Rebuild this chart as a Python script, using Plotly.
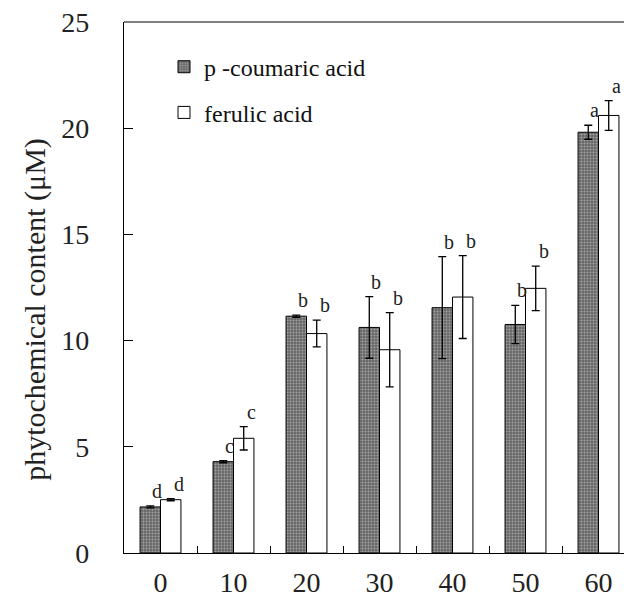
import plotly.graph_objects as go

categories = ["0", "10", "20", "30", "40", "50", "60"]
coumaric = [2.17, 4.30, 11.15, 10.62, 11.55, 10.76, 19.81]
coumaric_err = [0.05, 0.05, 0.05, 1.45, 2.40, 0.90, 0.33]
ferulic = [2.51, 5.40, 10.33, 9.57, 12.05, 12.46, 20.60]
ferulic_err = [0.05, 0.55, 0.63, 1.75, 1.95, 1.05, 0.70]
letters_coumaric = ["d", "c", "b", "b", "b", "b", "a"]
letters_ferulic = ["d", "c", "b", "b", "b", "b", "a"]
y_ticks = [0, 5, 10, 15, 20, 25]
y_title = "phytochemical content (μM)"

FONT = "Liberation Serif, Times New Roman, serif"

fig = go.Figure()
fig.add_trace(go.Bar(
    x=categories, y=coumaric, name="p -coumaric acid",
    marker=dict(color="#707070", line=dict(color="black", width=1),
                pattern=dict(shape=".", fgcolor="#e0e0e0", bgcolor="#666666", size=3, solidity=0.35)),
    error_y=dict(type="data", array=coumaric_err, color="black", thickness=1.3, width=4),
    legend="legend",
))
fig.add_trace(go.Bar(
    x=categories, y=ferulic, name="ferulic acid",
    marker=dict(color="white", line=dict(color="black", width=1)),
    error_y=dict(type="data", array=ferulic_err, color="black", thickness=1.3, width=4),
    legend="legend2",
))

for i, (v, e, t) in enumerate(zip(coumaric, coumaric_err, letters_coumaric)):
    fig.add_annotation(x=i, y=v + e, text=t, showarrow=False, xshift=-10 + 6, yshift=15,
                       yanchor="middle", font=dict(family=FONT, size=20, color="#222"))
for i, (v, e, t) in enumerate(zip(ferulic, ferulic_err, letters_ferulic)):
    fig.add_annotation(x=i, y=v + e, text=t, showarrow=False, xshift=10 + 8, yshift=15,
                       yanchor="middle", font=dict(family=FONT, size=20, color="#222"))

fig.add_annotation(xref="paper", yref="paper", x=-0.178, y=0.458, text=y_title,
                   textangle=-90, showarrow=False, xanchor="center", yanchor="middle",
                   font=dict(family=FONT, size=30, color="#222"))

fig.add_shape(type="line", xref="paper", yref="paper", x0=0, x1=1, y0=1, y1=1,
              line=dict(color="black", width=1.2))

fig.update_layout(
    width=624, height=602,
    margin=dict(l=124, r=0, t=22, b=49),
    paper_bgcolor="white", plot_bgcolor="white",
    barmode="group", bargap=0.44, bargroupgap=0,
    font=dict(family=FONT, color="#222"),
    legend=dict(x=0.08, y=0.915, xanchor="left", yanchor="middle",
                bgcolor="rgba(0,0,0,0)", font=dict(family=FONT, size=24, color="#111")),
    legend2=dict(x=0.08, y=0.829, xanchor="left", yanchor="middle",
                 bgcolor="rgba(0,0,0,0)", font=dict(family=FONT, size=24, color="#111")),
    showlegend=True,
)
fig.update_xaxes(
    type="category", range=[-0.5, -0.5 + 500 / 73],
    showline=True, linecolor="black", linewidth=1.3, mirror=False,
    ticks="inside", tickson="boundaries", ticklen=7, tickcolor="black", tickwidth=1,
    tickfont=dict(family=FONT, size=28, color="#222"), ticklabelstandoff=4,
    showgrid=False, zeroline=False,
)
fig.update_yaxes(
    range=[0, 25], tickvals=y_ticks,
    showline=True, linecolor="black", linewidth=1.3, mirror=False,
    ticks="inside", ticklen=9, tickcolor="black", tickwidth=1,
    tickfont=dict(family=FONT, size=28, color="#222"), ticklabelstandoff=28,
    showgrid=False, zeroline=False,
)

fig.write_html("out.html")
